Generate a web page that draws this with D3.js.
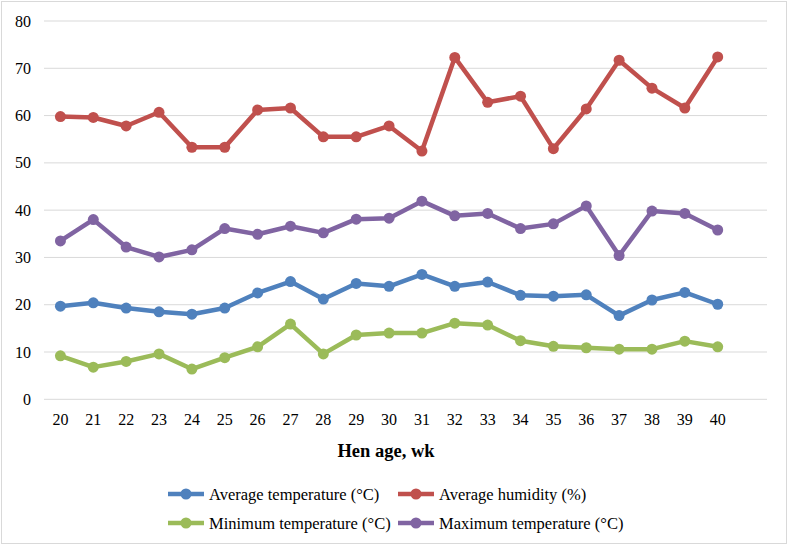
<!DOCTYPE html>
<html>
<meta charset="utf-8">
<head>
<style>
body { margin: 0; background: #fff; }
text { font-family: "Liberation Serif", "Times New Roman", serif; fill: #000; }
.grid line { stroke: #d9d9d9; stroke-width: 1; }
</style>
</head>
<body>
<svg width="789" height="547"></svg>

<script src="https://cdn.jsdelivr.net/npm/d3@7"></script>

<script>

// hen age in weeks (the last slot is an empty category, as in the original)
var weeks = [20, 21, 22, 23, 24, 25, 26, 27, 28, 29, 30, 31, 32, 33, 34, 35, 36, 37, 38, 39, 40];
var yTicks = [0, 10, 20, 30, 40, 50, 60, 70, 80];

var avgTemp  = [19.7, 20.4, 19.3, 18.5, 18.0, 19.3, 22.5, 24.9, 21.2, 24.5, 23.9, 26.4, 23.9, 24.8, 22.0, 21.8, 22.1, 17.7, 21.0, 22.6, 20.1];
var avgHum   = [59.8, 59.6, 57.8, 60.7, 53.3, 53.3, 61.2, 61.6, 55.5, 55.5, 57.8, 52.5, 72.3, 62.8, 64.1, 53.0, 61.4, 71.7, 65.8, 61.6, 72.4];
var minTemp  = [9.2, 6.8, 8.0, 9.6, 6.4, 8.8, 11.1, 15.9, 9.6, 13.6, 14.0, 14.0, 16.1, 15.7, 12.4, 11.2, 10.9, 10.6, 10.6, 12.3, 11.1];
var maxTemp  = [33.5, 38.0, 32.2, 30.1, 31.6, 36.1, 34.9, 36.6, 35.2, 38.1, 38.3, 41.9, 38.8, 39.3, 36.1, 37.1, 40.9, 30.4, 39.8, 39.3, 35.8];

var seriesNames = ["Average temperature (°C)", "Average humidity (%)", "Minimum temperature (°C)", "Maximum temperature (°C)"];
var seriesColors = ["#4f81bd", "#c0504d", "#9bbb59", "#8064a2"];

var series = [
  { name: seriesNames[0], color: seriesColors[0], values: avgTemp },
  { name: seriesNames[1], color: seriesColors[1], values: avgHum },
  { name: seriesNames[2], color: seriesColors[2], values: minTemp },
  { name: seriesNames[3], color: seriesColors[3], values: maxTemp }
];

var svg = d3.select("svg");

// chart area border
svg.append("rect")
    .attr("x", 1.5).attr("y", 1.5)
    .attr("width", 785).attr("height", 542)
    .style("fill", "#fff")
    .style("stroke", "#d9d9d9");

var plotL = 44, plotR = 767, plotT = 21, plotB = 399.3;

var x = d3.scaleBand()
    .domain(weeks.map(String).concat([""]))
    .range([plotL, plotR]);

var y = d3.scaleLinear()
    .domain([0, 80])
    .range([plotB, plotT]);

var cx = function(i) { return x(String(weeks[i])) + x.bandwidth() / 2; };

// gridlines
svg.append("g")
    .attr("class", "grid")
  .selectAll("line")
  .data(yTicks)
  .enter().append("line")
    .attr("x1", plotL).attr("x2", plotR)
    .attr("y1", function(d) { return y(d); })
    .attr("y2", function(d) { return y(d); });

// y labels
svg.append("g")
  .selectAll("text")
  .data(yTicks)
  .enter().append("text")
    .attr("x", 31)
    .attr("y", function(d) { return y(d); })
    .attr("dy", "0.35em")
    .attr("text-anchor", "end")
    .style("font-size", "16px")
    .text(function(d) { return d; });

// x labels
svg.append("g")
  .selectAll("text")
  .data(weeks)
  .enter().append("text")
    .attr("x", function(d, i) { return cx(i); })
    .attr("y", 419)
    .attr("dy", "0.35em")
    .attr("text-anchor", "middle")
    .style("font-size", "16px")
    .text(function(d) { return d; });

svg.append("text")
    .attr("x", 386)
    .attr("y", 457)
    .attr("text-anchor", "middle")
    .style("font-size", "18.5px")
    .style("font-weight", "bold")
    .text("Hen age, wk");

var line = d3.line()
    .x(function(d, i) { return cx(i); })
    .y(function(d) { return y(d); });

var sg = svg.append("g")
  .selectAll("g")
  .data(series)
  .enter().append("g");

sg.append("path")
    .attr("d", function(d) { return line(d.values); })
    .style("fill", "none")
    .style("stroke", function(d) { return d.color; })
    .style("stroke-width", 4.5)
    .style("stroke-linejoin", "round");

sg.selectAll("circle")
  .data(function(d) { return d.values.map(function(v) { return { v: v, c: d.color }; }); })
  .enter().append("circle")
    .attr("cx", function(d, i) { return cx(i); })
    .attr("cy", function(d) { return y(d.v); })
    .attr("r", 5.5)
    .style("fill", function(d) { return d.c; });

// legend
var legPos = [[168, 494], [398, 494], [168, 523], [398, 523]];

var leg = svg.append("g")
  .selectAll("g")
  .data(series)
  .enter().append("g")
    .attr("transform", function(d, i) { return "translate(" + legPos[i][0] + "," + legPos[i][1] + ")"; });

leg.append("line")
    .attr("x1", 0).attr("x2", 36)
    .style("stroke", function(d) { return d.color; })
    .style("stroke-width", 4.5);

leg.append("circle")
    .attr("cx", 18).attr("r", 5.5)
    .style("fill", function(d) { return d.color; });

leg.append("text")
    .attr("x", 41)
    .attr("dy", "0.35em")
    .style("font-size", "16.5px")
    .text(function(d) { return d.name; });

</script>
</body>
</html>
